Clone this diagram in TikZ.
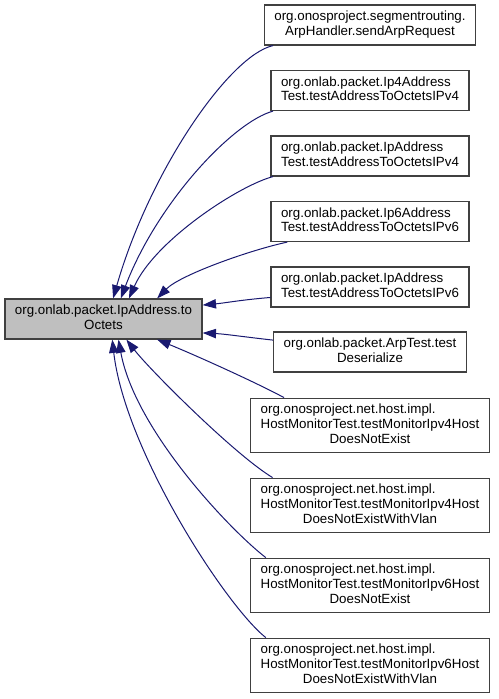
\documentclass[tikz,border=0pt]{standalone}
\usepackage{xcolor}
\usepackage{fontspec}
\setmainfont{Liberation Sans}
\usepackage{tikz}
\usetikzlibrary{arrows.meta,calc}

\definecolor{edgeblue}{RGB}{25,25,112}
\definecolor{nodegray}{RGB}{191,191,191}
\definecolor{framegray}{RGB}{64,64,64}
\newcommand{\dlabel}[2]{\begin{tabular}{@{}l@{}}#1\\\multicolumn{1}{@{}c@{}}{#2}\end{tabular}}

\begin{document}
\begin{tikzpicture}[x=0.75pt, y=-0.75pt, >={Triangle[length=10pt,width=7pt]},
    cls/.style={draw=framegray, line width=0.9pt, fill=white, inner xsep=7.5pt, inner ysep=0pt,
      minimum height=#1, font=\fontsize{10}{11}\selectfont},
    cls/.default=30pt,
    calls/.style={->, edgeblue, line width=0.75pt}]
  \useasboundingbox (0,0) rectangle (499,699);
  \node[cls, fill=nodegray] (m) at (103.5,319) {\dlabel{org.onlab.packet.IpAddress.to}{Octets}};
  \node[cls] (b1) at (370,25) {\dlabel{org.onosproject.segmentrouting.}{ArpHandler.sendArpRequest}};
  \node[cls] (b2) at (370,90.5) {\dlabel{org.onlab.packet.Ip4Address}{Test.testAddressToOctetsIPv4}};
  \node[cls] (b3) at (370,156) {\dlabel{org.onlab.packet.IpAddress}{Test.testAddressToOctetsIPv4}};
  \node[cls] (b4) at (370,221.5) {\dlabel{org.onlab.packet.Ip6Address}{Test.testAddressToOctetsIPv6}};
  \node[cls] (b5) at (370,287) {\dlabel{org.onlab.packet.IpAddress}{Test.testAddressToOctetsIPv6}};
  \node[cls] (b6) at (370,352) {\dlabel{org.onlab.packet.ArpTest.test}{Deserialize}};
  \node[cls=41pt] (b7) at (370,425.5) {\dlabel{org.onosproject.net.host.impl.\\HostMonitorTest.testMonitorIpv4Host}{DoesNotExist}};
  \node[cls=41pt] (b8) at (370,505.5) {\dlabel{org.onosproject.net.host.impl.\\HostMonitorTest.testMonitorIpv4Host}{DoesNotExistWithVlan}};
  \node[cls=41pt] (b9) at (370,585.5) {\dlabel{org.onosproject.net.host.impl.\\HostMonitorTest.testMonitorIpv6Host}{DoesNotExist}};
  \node[cls=41pt] (b10) at (370,665.5) {\dlabel{org.onosproject.net.host.impl.\\HostMonitorTest.testMonitorIpv6Host}{DoesNotExistWithVlan}};
  \draw[calls] (b1.192) .. controls (230,55) and (150,170) .. (m.65);
  \draw[calls] (b2.192) .. controls (233,122) and (157,203) .. (m.50);
  \draw[calls] (b3.192) .. controls (240,185) and (155,240) .. (m.39);
  \draw[calls] (b4.194) .. controls (250,250) and (180,275) .. (m.21);
  \draw[calls] (b5.186) .. controls (240,300) and (225,303) .. (m.8);
  \draw[calls] (b6.173) .. controls (245,337) and (225,334) .. (m.-8);
  \draw[calls] (b7.162) .. controls (255,382) and (195,355) .. (m.-21);
  \draw[calls] (b8.164) .. controls (235,455) and (150,370) .. (m.-42);
  \draw[calls] (b9.165) .. controls (230,530) and (135,430) .. (m.-54);
  \draw[calls] (b10.165) .. controls (225,605) and (125,450) .. (m.-67);
\end{tikzpicture}
\end{document}
